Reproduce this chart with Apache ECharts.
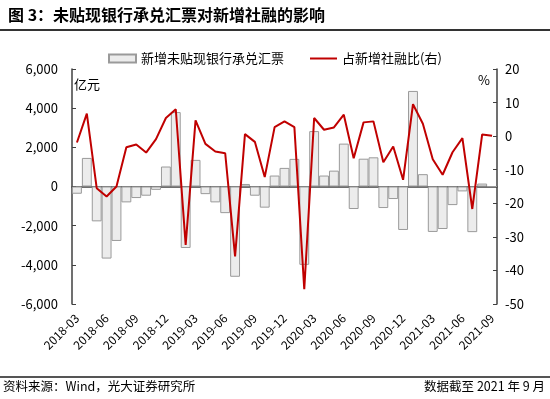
<!DOCTYPE html>
<html>
<head>
<meta charset="utf-8">
<script src="https://cdn.jsdelivr.net/npm/echarts@6/dist/echarts.min.js"></script>
<style>
    html, body { margin: 0; padding: 0; background: #fff; }
    #main { width: 550px; height: 399px; }
</style>
</head>
<body>
<div id="main"></div>
<script>
// 月份
var months = ['2018-03', '2018-04', '2018-05', '2018-06', '2018-07', '2018-08', '2018-09', '2018-10', '2018-11', '2018-12',
    '2019-01', '2019-02', '2019-03', '2019-04', '2019-05', '2019-06', '2019-07', '2019-08', '2019-09', '2019-10', '2019-11', '2019-12',
    '2020-01', '2020-02', '2020-03', '2020-04', '2020-05', '2020-06', '2020-07', '2020-08', '2020-09', '2020-10', '2020-11', '2020-12',
    '2021-01', '2021-02', '2021-03', '2021-04', '2021-05', '2021-06', '2021-07', '2021-08', '2021-09'];
// 新增未贴现银行承兑汇票（亿元）
var billData = [-370, 1460, -1780, -3680, -2780, -810, -590, -470, -170, 1020,
    3800, -3140, 1360, -390, -810, -1360, -4610, 130, -470, -1080, 560, 950,
    1410, -4000, 2830, 560, 810, 2190, -1150, 1420, 1490, -1100, -640, -2220,
    4880, 630, -2320, -2170, -950, -250, -2330, 150, 0];
// 占新增社融比（%，右轴）
var ratioData = [-1.9, 6.7, -15.5, -18.0, -15.0, -3.3, -2.5, -4.9, -0.9, 5.4,
    8.0, -32.4, 4.7, -2.3, -4.6, -5.1, -35.8, 0.6, -1.7, -12.2, 2.7, 4.4,
    2.7, -45.6, 5.4, 1.9, 2.6, 6.4, -6.6, 4.1, 4.4, -7.8, -3.1, -13.0,
    9.5, 3.7, -6.9, -11.5, -4.8, -0.6, -21.7, 0.5, 0.1];

var font = '"Noto Sans CJK SC", "Noto Sans", sans-serif';
var axisColor = '#404040';

var myChart = echarts.init(document.getElementById('main'));
var option = {
    animation: false,
    textStyle: { fontFamily: font },
    title: {
        text: '图 3：未贴现银行承兑汇票对新增社融的影响',
        left: 3,
        top: 2,
        textStyle: { fontSize: 16, fontWeight: 'bold', color: '#000', fontFamily: font }
    },
    legend: {
        left: 103,
        top: 47,
        itemWidth: 27,
        itemHeight: 8,
        itemGap: 26,
        textStyle: { fontSize: 13, color: '#000', fontFamily: font },
        data: [
            { name: '新增未贴现银行承兑汇票', icon: 'rect' },
            // 图例只画一条细线
            { name: '占新增社融比(右)', icon: 'path://M0,0L27,0L27,2L0,2Z', itemStyle: { color: '#c00000' } }
        ]
    },
    grid: {
        left: 72,
        right: 53,
        top: 69,
        bottom: 95
    },
    xAxis: [{
        // 底部标签
        type: 'category',
        data: months,
        axisLine: { show: false },
        axisTick: { show: false },
        axisLabel: {
            interval: 2,
            rotate: 45,
            margin: 12,
            fontSize: 12,
            color: '#000'
        }
    }, {
        // 零轴
        type: 'category',
        data: months,
        position: 'bottom',
        axisLine: { onZero: true, onZeroAxisIndex: 0, lineStyle: { color: axisColor, width: 1.5 } },
        axisTick: { inside: true, interval: 2, length: 4, lineStyle: { color: axisColor } },
        axisLabel: { show: false }
    }],
    yAxis: [{
        type: 'value',
        min: -6000,
        max: 6000,
        interval: 2000,
        splitLine: { show: false },
        axisLine: { show: true, lineStyle: { color: axisColor, width: 1.5 } },
        axisTick: { show: true, inside: true, length: 4, lineStyle: { color: axisColor } },
        axisLabel: {
            fontSize: 13,
            color: '#000',
            margin: 14,
            formatter: function (v) {
                return v.toLocaleString('en-US');
            }
        }
    }, {
        type: 'value',
        min: -50,
        max: 20,
        interval: 10,
        position: 'right',
        splitLine: { show: false },
        axisLine: { show: true, lineStyle: { color: axisColor, width: 1.5 } },
        axisTick: { show: true, inside: true, length: 4, lineStyle: { color: axisColor } },
        axisLabel: { fontSize: 13, color: '#000', margin: 8 }
    }],
    graphic: [
        { type: 'rect', left: 0, top: 29, shape: { width: 550, height: 2 }, style: { fill: '#333' } },
        { type: 'text', left: 74, top: 78, style: { text: '亿元', fontSize: 13, fill: '#000', fontFamily: font } },
        { type: 'text', left: 478, top: 74, style: { text: '%', fontSize: 13, fill: '#000', fontFamily: font } },
        { type: 'rect', left: 0, top: 376, shape: { width: 550, height: 2 }, style: { fill: '#555' } },
        { type: 'text', left: 3, top: 380, style: { text: '资料来源：Wind，光大证券研究所', fontSize: 12.5, fill: '#000', fontFamily: font } },
        { type: 'text', right: 5, top: 380, style: { text: '数据截至 2021 年 9 月', fontSize: 12.5, fill: '#000', fontFamily: font } }
    ],
    series: [{
        name: '新增未贴现银行承兑汇票',
        type: 'bar',
        xAxisIndex: 0,
        yAxisIndex: 0,
        barCategoryGap: '0%',
        itemStyle: { color: '#ececec', borderColor: '#9a9a9a', borderWidth: 1 },
        data: billData
    }, {
        name: '占新增社融比(右)',
        type: 'line',
        xAxisIndex: 0,
        yAxisIndex: 1,
        symbol: 'none',
        lineStyle: { color: '#c00000', width: 2 },
        itemStyle: { color: '#c00000' },
        data: ratioData
    }]
};
myChart.setOption(option);
</script>
</body>
</html>
